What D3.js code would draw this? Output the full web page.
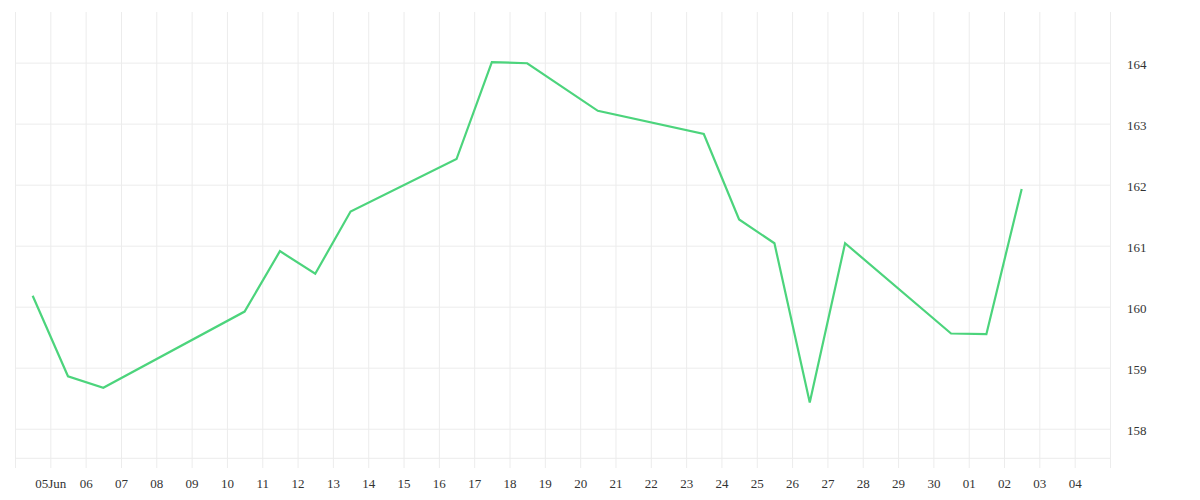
<!DOCTYPE html>
<html lang="en">
<head>
    <meta charset="UTF-8">
    <title>Line</title>
    <script src="https://d3js.org/d3.v7.min.js"></script>
    <style>
        body { margin: 0; background: #fff; }
        .axis text { font-family: "Liberation Serif", serif; font-size: 13px; fill: #333; }
        .axis line { stroke: #ececec; }
        .axis path { display: none; }
    </style>
</head>
<body>
    <svg width="1200" height="500" id="chart"></svg>

    <script>
        // data
        const dates = [
            "2024-06-04 12:00", "2024-06-05 12:00", "2024-06-06 12:00", "2024-06-10 12:00",
            "2024-06-11 12:00", "2024-06-12 12:00", "2024-06-13 12:00", "2024-06-16 12:00",
            "2024-06-17 12:00", "2024-06-18 12:00", "2024-06-20 12:00", "2024-06-23 12:00",
            "2024-06-24 12:00", "2024-06-25 12:00", "2024-06-26 12:00", "2024-06-27 12:00",
            "2024-06-30 12:00", "2024-07-01 12:00", "2024-07-02 12:00"
        ];
        const values = [
            160.18, 158.86, 158.67, 159.92,
            160.91, 160.54, 161.56, 162.42,
            164.01, 163.99, 163.21, 162.83,
            161.43, 161.04, 158.43, 161.04,
            159.56, 159.55, 161.93
        ];

        // tick labels
        const xTickLabels = [
            "", "05Jun", "06", "07", "08", "09", "10", "11", "12", "13", "14", "15", "16",
            "17", "18", "19", "20", "21", "22", "23", "24", "25", "26", "27", "28", "29",
            "30", "01", "02", "03", "04", ""
        ];
        const yTicks = [158, 159, 160, 161, 162, 163, 164];

        const parse = d3.timeParse("%Y-%m-%d %H:%M");
        const points = dates.map((d, i) => ({ date: parse(d), value: values[i] }));

        const svg = d3.select("#chart");

        // scales
        const start = parse("2024-06-04 00:00");
        const end = parse("2024-07-05 00:00");
        const x = d3.scaleTime().domain([start, end]).range([15, 1110]);
        const y = d3.scaleLinear().domain([157.515, 164.83]).range([458.3, 12]);

        const dayTicks = d3.timeDay.range(start, d3.timeDay.offset(end, 1));

        // x axis with vertical grid
        svg.append("g")
            .attr("class", "axis")
            .attr("transform", "translate(0,468)")
            .call(d3.axisBottom(x)
                .tickValues(dayTicks)
                .tickSize(-456)
                .tickPadding(11)
                .tickFormat((d, i) => xTickLabels[i]));

        // y axis with horizontal grid
        svg.append("g")
            .attr("class", "axis")
            .attr("transform", "translate(1110,0)")
            .call(d3.axisRight(y)
                .tickValues(yTicks)
                .tickSize(-1095)
                .tickPadding(17)
                .tickFormat(d3.format("d")))
            .selectAll("text")
            .attr("dy", "0.45em");

        // bottom line
        svg.append("line")
            .attr("x1", x.range()[0])
            .attr("x2", x.range()[1])
            .attr("y1", y(157.515))
            .attr("y2", y(157.515))
            .attr("stroke", "#ececec");

        // the line
        const line = d3.line()
            .x(d => x(d.date))
            .y(d => y(d.value));

        svg.append("path")
            .datum(points)
            .attr("d", line)
            .attr("fill", "none")
            .attr("stroke", "#4cd47c")
            .attr("stroke-width", 2.2)
            .attr("stroke-linejoin", "miter");
    </script>
</body>
</html>
